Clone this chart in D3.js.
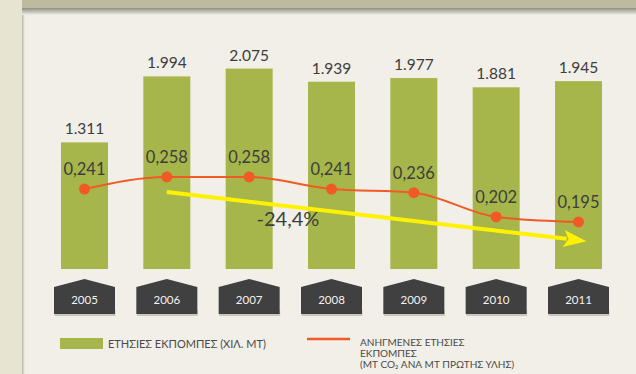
<!DOCTYPE html>
<html>
<head>
<meta charset="utf-8">
<script src="https://cdn.jsdelivr.net/npm/d3@7/dist/d3.min.js"></script>
<style>
  html, body { margin: 0; padding: 0; background: #f1efe7; }
  svg { display: block; }
  text { font-family: Lato, "Open Sans", sans-serif; }
</style>
</head>
<body>
<svg id="chart" width="636" height="374"></svg>
<script>
// Annual emissions (thousand t) and specific emissions (t CO2 per t raw material)
const years = ["2005", "2006", "2007", "2008", "2009", "2010", "2011"];
const annualEmissions = [1311, 1994, 2075, 1939, 1977, 1881, 1945];
const annualLabels = ["1.311", "1.994", "2.075", "1.939", "1.977", "1.881", "1.945"];
const specificEmissions = [0.241, 0.258, 0.258, 0.241, 0.236, 0.202, 0.195];
const specificLabels = ["0,241", "0,258", "0,258", "0,241", "0,236", "0,202", "0,195"];
// Trend arrow from 2006 to 2011, expressed on the specific-emissions axis
const trendFrom = { year: "2006", value: 0.237 };
const trendTo = { year: "2011", value: 0.168 };
const trendLabel = "-24,4%";
const legendItems = [
  ["ΕΤΗΣΙΕΣ ΕΚΠΟΜΠΕΣ (ΧΙΛ. ΜΤ)"],
  ["ΑΝΗΓΜΕΝΕΣ ΕΤΗΣΙΕΣ", "ΕΚΠΟΜΠΕΣ", "(ΜΤ CO₂ ΑΝΑ ΜΤ ΠΡΩΤΗΣ ΥΛΗΣ)"]
];

const GREEN = "#a6b64a", ORANGE = "#f15a24", YELLOW = "#fff200", DARK = "#3d3d3d", TAG = "#404040";

const svg = d3.select("#chart");
const W = 636, H = 374;

// page frame: side strip, top band and its shadow
const defs = svg.append("defs");
const sh = defs.append("linearGradient").attr("id", "topShadow").attr("x1", 0).attr("y1", 0).attr("x2", 0).attr("y2", 1);
sh.append("stop").attr("offset", 0).attr("stop-color", "#8f8d80");
sh.append("stop").attr("offset", 1).attr("stop-color", "#f1efe7");
const sv = defs.append("linearGradient").attr("id", "sideShadow").attr("x1", 0).attr("y1", 0).attr("x2", 1).attr("y2", 0);
sv.append("stop").attr("offset", 0).attr("stop-color", "#b9b7aa");
sv.append("stop").attr("offset", 1).attr("stop-color", "#f1efe7");

svg.append("rect").attr("width", W).attr("height", H).attr("fill", "#f1efe7");
svg.append("rect").attr("x", 0).attr("y", 0).attr("width", 22).attr("height", H).attr("fill", "#e7e4d1");
svg.append("rect").attr("x", 22).attr("y", 14).attr("width", 3).attr("height", H - 14).attr("fill", "url(#sideShadow)");
svg.append("rect").attr("x", 22).attr("y", 8).attr("width", W - 22).attr("height", 7).attr("fill", "url(#topShadow)");
svg.append("rect").attr("x", 22).attr("y", 0).attr("width", W - 22).attr("height", 8).attr("fill", "#bdbaa0");

// scales
const x = d3.scalePoint().domain(years).range([84.5, 578.5]);
const barW = 47;
const yBar = d3.scaleLinear().domain([0, 2200]).range([269, 56.5]);
const yLine = d3.scaleLinear().domain([0.15, 0.30]).range([254, 147]);

// bars
svg.append("g").selectAll("rect").data(years).join("rect")
  .attr("x", d => x(d) - barW / 2)
  .attr("y", (d, i) => yBar(annualEmissions[i]))
  .attr("width", barW)
  .attr("height", (d, i) => yBar(0) - yBar(annualEmissions[i]))
  .attr("fill", GREEN);

svg.append("g").selectAll("text").data(years).join("text")
  .attr("x", d => x(d))
  .attr("y", (d, i) => yBar(annualEmissions[i]) - 8)
  .attr("text-anchor", "middle")
  .attr("font-size", 15.5)
  .attr("fill", DARK)
  .text((d, i) => annualLabels[i]);

// specific emissions line
const line = d3.line()
  .x(d => x(d.year))
  .y(d => yLine(d.value))
  .curve(d3.curveMonotoneX);
const pts = years.map((y, i) => ({ year: y, value: specificEmissions[i] }));
svg.append("path").datum(pts)
  .attr("d", line)
  .attr("fill", "none")
  .attr("stroke", ORANGE)
  .attr("stroke-width", 2);

svg.append("g").selectAll("circle").data(pts).join("circle")
  .attr("cx", d => x(d.year))
  .attr("cy", d => yLine(d.value))
  .attr("r", 5.5)
  .attr("fill", ORANGE);

svg.append("g").selectAll("text").data(pts).join("text")
  .attr("x", d => x(d.year))
  .attr("y", d => yLine(d.value) - 14)
  .attr("text-anchor", "middle")
  .attr("font-size", 16.5)
  .attr("fill", DARK)
  .text((d, i) => specificLabels[i]);

// trend arrow
const ax0 = x(trendFrom.year), ay0 = yLine(trendFrom.value);
const ax1 = x(trendTo.year) + 8, ay1 = yLine(trendTo.value);
const ang = Math.atan2(ay1 - ay0, ax1 - ax0);
const headLen = 23, headHalf = 8.5;
const bx = ax1 - headLen * Math.cos(ang), by = ay1 - headLen * Math.sin(ang);
svg.append("line")
  .attr("x1", ax0).attr("y1", ay0)
  .attr("x2", bx + 3 * Math.cos(ang)).attr("y2", by + 3 * Math.sin(ang))
  .attr("stroke", YELLOW).attr("stroke-width", 4);
svg.append("path")
  .attr("d", `M${ax1},${ay1}L${bx - headHalf * Math.sin(ang)},${by + headHalf * Math.cos(ang)}L${bx + 5 * Math.cos(ang)},${by + 5 * Math.sin(ang)}L${bx + headHalf * Math.sin(ang)},${by - headHalf * Math.cos(ang)}Z`)
  .attr("fill", YELLOW);

svg.append("text")
  .attr("x", 288).attr("y", 226)
  .attr("text-anchor", "middle")
  .attr("font-size", 20)
  .attr("fill", DARK)
  .text(trendLabel);

// year tags
const tagW = 61, tagTop = 279, tagShoulder = 287, tagBottom = 314;
const tags = svg.append("g").selectAll("g").data(years).join("g");
tags.append("rect")
  .attr("x", d => x(d) - tagW / 2 + 0.5)
  .attr("y", tagBottom - 4)
  .attr("width", tagW)
  .attr("height", 6)
  .attr("fill", "#c9c7bd");
tags.append("path")
  .attr("d", d => {
    const c = x(d), h = tagW / 2;
    return `M${c - h},${tagShoulder}L${c},${tagTop}L${c + h},${tagShoulder}L${c + h},${tagBottom}L${c - h},${tagBottom}Z`;
  })
  .attr("fill", TAG);
tags.append("text")
  .attr("x", d => x(d))
  .attr("y", 304)
  .attr("text-anchor", "middle")
  .attr("font-size", 11.5)
  .attr("fill", "#f2f2f2")
  .text(d => d);

// legend
const lg = svg.append("g");
lg.append("rect").attr("x", 60).attr("y", 338).attr("width", 43).attr("height", 11).attr("fill", GREEN);
lg.append("text").attr("x", 108).attr("y", 347.5).attr("font-size", 11).attr("fill", "#4a4a4a").text(legendItems[0][0]);
lg.append("line").attr("x1", 307).attr("x2", 350).attr("y1", 339).attr("y2", 339).attr("stroke", ORANGE).attr("stroke-width", 2.5);
lg.append("g").selectAll("text").data(legendItems[1]).join("text")
  .attr("x", 360)
  .attr("y", (d, i) => 346 + i * 11)
  .attr("font-size", 10)
  .attr("fill", "#4a4a4a")
  .text(d => d);
</script>
</body>
</html>
